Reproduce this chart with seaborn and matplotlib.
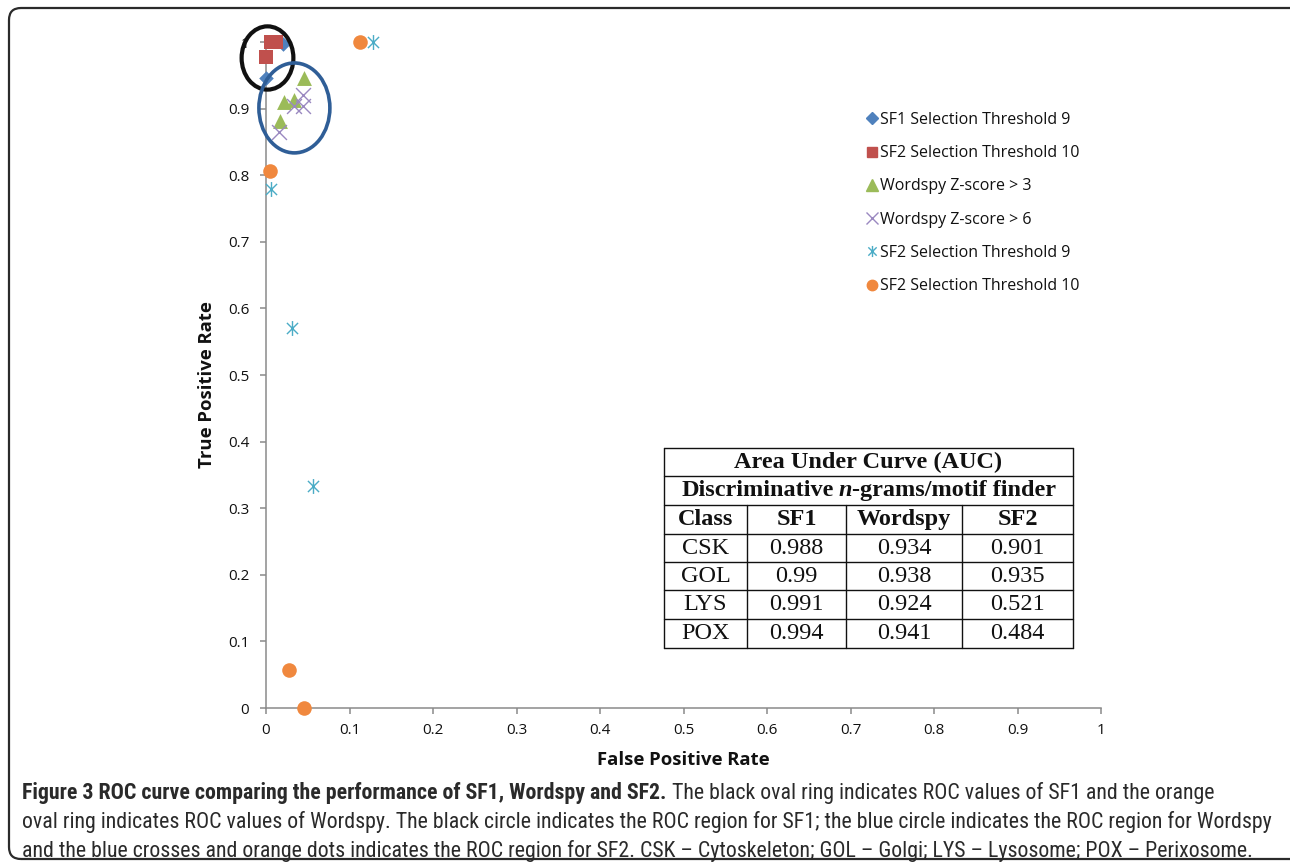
import matplotlib
matplotlib.use('Agg')
import matplotlib.pyplot as plt
import seaborn as sns
from matplotlib.patches import Ellipse, FancyBboxPatch
from matplotlib.lines import Line2D
from matplotlib.path import Path
from matplotlib.transforms import IdentityTransform
from matplotlib import font_manager

# ---- data (FPR, TPR) ----
sf1_t9_fpr = [0.020, 0.0]
sf1_t9_tpr = [0.997, 0.946]
sf2_t10_sq_fpr = [0.006, 0.012, 0.0]
sf2_t10_sq_tpr = [1.0, 1.0, 0.977]
ws_z3_fpr = [0.046, 0.021, 0.033, 0.017]
ws_z3_tpr = [0.946, 0.910, 0.913, 0.882]
ws_z6_fpr = [0.044, 0.033, 0.044, 0.016]
ws_z6_tpr = [0.920, 0.904, 0.904, 0.865]
sf2_t9_fpr = [0.128, 0.006, 0.031, 0.056]
sf2_t9_tpr = [1.0, 0.779, 0.571, 0.333]
sf2_t10_fpr = [0.112, 0.005, 0.027, 0.046]
sf2_t10_tpr = [1.0, 0.806, 0.057, 0.0]

series_labels = ['SF1 Selection Threshold 9', 'SF2 Selection Threshold 10',
                 'Wordspy Z-score > 3', 'Wordspy Z-score > 6',
                 'SF2 Selection Threshold 9', 'SF2 Selection Threshold 10']

tick_values = [0, 0.1, 0.2, 0.3, 0.4, 0.5, 0.6, 0.7, 0.8, 0.9, 1]
tick_labels = ['0', '0.1', '0.2', '0.3', '0.4', '0.5', '0.6', '0.7', '0.8', '0.9', '1']

# AUC table
auc_title = 'Area Under Curve (AUC)'
auc_header = ['Class', 'SF1', 'Wordspy', 'SF2']
auc_classes = ['CSK', 'GOL', 'LYS', 'POX']
auc_sf1 = ['0.988', '0.99', '0.991', '0.994']
auc_wordspy = ['0.934', '0.938', '0.924', '0.941']
auc_sf2 = ['0.901', '0.935', '0.521', '0.484']

# highlight rings (center x, center y, width, height) in data units
black_ring = (0.0018, 0.976, 0.062, 0.095)
blue_ring = (0.034, 0.901, 0.085, 0.135)

caption_bold = 'Figure 3 ROC curve comparing the performance of SF1, Wordspy and SF2.'
caption_lines = [
    'The black oval ring indicates ROC values of SF1 and the orange',
    'oval ring indicates ROC values of Wordspy. The black circle indicates the ROC region for SF1; the blue circle indicates the ROC region for Wordspy',
    'and the blue crosses and orange dots indicates the ROC region for SF2. CSK \u2013 Cytoskeleton; GOL \u2013 Golgi; LYS \u2013 Lysosome; POX \u2013 Perixosome.',
]

# colours (Excel 2007 palette)
c_blue = '#4F81BD'
c_red = '#C0504D'
c_green = '#9BBB59'
c_purple = '#9A88C0'
c_cyan = '#4BACC6'
c_orange = '#F0883E'

W, H = 1290, 865

sns.set_theme(style='white')
plt.rcParams['font.family'] = ['Open Sans', 'DejaVu Sans']

fig = plt.figure(figsize=(W / 100, H / 100), dpi=100)
renderer = fig.canvas.get_renderer()

def fx(x):
    return x / W

def fy(y):
    return 1 - y / H

# outer rounded frame
fig.patches.append(FancyBboxPatch((9, H - 859), 1300, 851,
                                  boxstyle='round,pad=0,rounding_size=12',
                                  transform=IdentityTransform(), fill=False,
                                  edgecolor='#2b2b2b', linewidth=1.6))

ax = fig.add_axes([fx(266), fy(708), (1101 - 266) / W, (708 - 42) / H])

# asterisk marker like Excel (vertical bar + X)
star_path = Path([(0, -1), (0, 1), (-0.75, -0.75), (0.75, 0.75), (-0.75, 0.75), (0.75, -0.75)],
                 [Path.MOVETO, Path.LINETO, Path.MOVETO, Path.LINETO, Path.MOVETO, Path.LINETO])

sns.scatterplot(x=sf1_t9_fpr, y=sf1_t9_tpr, marker='D', s=55, color=c_blue,
                edgecolor=c_blue, linewidth=0, ax=ax, clip_on=False, zorder=4)
sns.scatterplot(x=sf2_t10_sq_fpr, y=sf2_t10_sq_tpr, marker='s', s=105, color=c_red,
                edgecolor=c_red, linewidth=0, ax=ax, clip_on=False, zorder=5)
sns.scatterplot(x=ws_z3_fpr, y=ws_z3_tpr, marker='^', s=115, color=c_green,
                edgecolor=c_green, linewidth=0, ax=ax, clip_on=False, zorder=4)
sns.scatterplot(x=ws_z6_fpr, y=ws_z6_tpr, marker='x', s=115, color=c_purple,
                linewidth=1.0, ax=ax, clip_on=False, zorder=5)
sns.scatterplot(x=sf2_t9_fpr, y=sf2_t9_tpr, marker=star_path, s=115, color=c_cyan,
                edgecolor=c_cyan, linewidth=1.0, ax=ax, clip_on=False, zorder=4)
sns.scatterplot(x=sf2_t10_fpr, y=sf2_t10_tpr, marker='o', s=110, color=c_orange,
                edgecolor=c_orange, linewidth=0, ax=ax, clip_on=False, zorder=4)

for (cx, cy, w, h), col, lw in [(black_ring, '#111111', 3.0), (blue_ring, '#2F5E97', 2.6)]:
    ax.add_patch(Ellipse((cx, cy), w, h, fill=False, edgecolor=col, linewidth=lw,
                         clip_on=False, zorder=6))

ax.set_xlim(0, 1)
ax.set_ylim(0, 1)
ax.set_xticks(tick_values)
ax.set_xticklabels(tick_labels)
ax.set_yticks(tick_values)
ax.set_yticklabels(tick_labels)
for side in ['top', 'right']:
    ax.spines[side].set_visible(False)
for side in ['left', 'bottom']:
    ax.spines[side].set_color('#8a8a8a')
    ax.spines[side].set_linewidth(1.1)
ax.tick_params(axis='both', direction='out', length=4, width=1.1, color='#8a8a8a',
               labelsize=11, labelcolor='#111111', left=True, bottom=True)
ax.tick_params(axis='y', pad=8)
ax.tick_params(axis='x', pad=7)
ax.set_xlabel('False Positive Rate', fontsize=13.3, fontweight='bold', color='#111111')
ax.set_ylabel('True Positive Rate', fontsize=13.3, fontweight='bold', color='#111111')
ax.xaxis.label.set_va('center')
ax.yaxis.label.set_va('center')
ax.xaxis.set_label_coords((683 - 266) / 835, (708 - 760) / 666)
ax.yaxis.set_label_coords((207 - 266) / 835, (708 - 385) / 666)

# legend
handles = [
    Line2D([], [], ls='none', marker='D', markersize=6, color=c_blue),
    Line2D([], [], ls='none', marker='s', markersize=7.5, color=c_red),
    Line2D([], [], ls='none', marker='^', markersize=8, color=c_green),
    Line2D([], [], ls='none', marker='x', markersize=8, color=c_purple, markeredgewidth=1),
    Line2D([], [], ls='none', marker=star_path, markersize=8, color=c_cyan,
           markerfacecolor='none', markeredgewidth=1),
    Line2D([], [], ls='none', marker='o', markersize=7.5, color=c_orange),
]
ax.legend(handles, series_labels, loc='upper left', bbox_to_anchor=(fx(866), fy(112)),
          bbox_transform=fig.transFigure, frameon=False, fontsize=11.5,
          labelspacing=1.08, handlelength=0.7, handletextpad=0.2,
          borderpad=0, borderaxespad=0, labelcolor='#111111')

# AUC table drawn as lines + text
row_y = [448, 476, 505, 534, 562, 590, 619, 648]
col_x = [664, 747, 846, 962, 1073]
tcol = '#111111'
for y in row_y:
    fig.add_artist(Line2D([fx(col_x[0]), fx(col_x[-1])], [fy(y), fy(y)], color=tcol, lw=1.0))
for i, x in enumerate(col_x):
    top = row_y[0] if i in (0, len(col_x) - 1) else row_y[2]
    fig.add_artist(Line2D([fx(x), fx(x)], [fy(top), fy(row_y[-1])], color=tcol, lw=1.0))

serif = ['Liberation Serif', 'DejaVu Serif']

def rich(segments, x, y, ha='center', size=15, color='#111111', family=None, stretch='normal'):
    # segments: list of (text, weight, style, gap_before_px)
    texts = []
    widths = []
    for s, weight, style, gap in segments:
        t = fig.text(0, fy(y), s, fontsize=size, fontweight=weight, fontstyle=style,
                     family=family, fontstretch=stretch, color=color, va='center', ha='left')
        texts.append(t)
        widths.append(t.get_window_extent(renderer).width)
    total = sum(widths) + sum(seg[3] for seg in segments)
    cur = x - total / 2 if ha == 'center' else x
    for t, w, seg in zip(texts, widths, segments):
        cur += seg[3]
        t.set_x(fx(cur))
        cur += w
    return total

tsize = 17.5
mid_x = (col_x[0] + col_x[-1]) / 2
rich([(auc_title, 'bold', 'normal', 0)], mid_x, (row_y[0] + row_y[1]) / 2, size=tsize, family=serif)
rich([('Discriminative', 'bold', 'normal', 0), ('n', 'bold', 'italic', 5),
      ('-grams/motif finder', 'bold', 'normal', 0)],
     mid_x, (row_y[1] + row_y[2]) / 2, size=tsize, family=serif)
for j, hdr in enumerate(auc_header):
    fig.text(fx((col_x[j] + col_x[j + 1]) / 2), fy((row_y[2] + row_y[3]) / 2), hdr,
             fontsize=tsize, fontweight='bold', family=serif, color=tcol, ha='center', va='center')
for i, row in enumerate(zip(auc_classes, auc_sf1, auc_wordspy, auc_sf2)):
    for j, val in enumerate(row):
        fig.text(fx((col_x[j] + col_x[j + 1]) / 2), fy((row_y[3 + i] + row_y[4 + i]) / 2), val,
                 fontsize=tsize, family=serif, color=tcol, ha='center', va='center')

# caption: prefer a condensed sans face if one is installed
cap_family, cap_stretch = ['Open Sans', 'DejaVu Sans'], 'normal'
cands = []
for f in font_manager.fontManager.ttflist:
    narrow = ('Condensed' in f.name or 'Narrow' in f.name or
              str(f.stretch) in ('condensed', 'semi-condensed', 'extra-condensed', '300', '400'))
    if narrow and f.style == 'normal' and 'Mono' not in f.name and 'Serif' not in f.name:
        cands.append(f)
if cands:
    pref = ['Roboto', 'Open Sans', 'Noto Sans', 'Liberation', 'DejaVu Sans']
    cands.sort(key=lambda f: next((i for i, p in enumerate(pref) if f.name.startswith(p)), 99))
    cap_family, cap_stretch = [cands[0].name, 'DejaVu Sans'], cands[0].stretch

probe = fig.text(0, 0, caption_lines[1], fontsize=13, family=cap_family, fontstretch=cap_stretch)
cap_size = 13 * (1268 - 22) / probe.get_window_extent(renderer).width
probe.remove()
cap_color = '#2a2a2a'
rich([(caption_bold, 'bold', 'normal', 0), (caption_lines[0], 'normal', 'normal', cap_size * 0.33)],
     22, 793, ha='left', size=cap_size, color=cap_color, family=cap_family, stretch=cap_stretch)
for yy, line in zip([822, 851], caption_lines[1:]):
    fig.text(fx(22), fy(yy), line, fontsize=cap_size, family=cap_family, fontstretch=cap_stretch,
             color=cap_color, va='center', ha='left')

fig.savefig('out.png', dpi=100)
